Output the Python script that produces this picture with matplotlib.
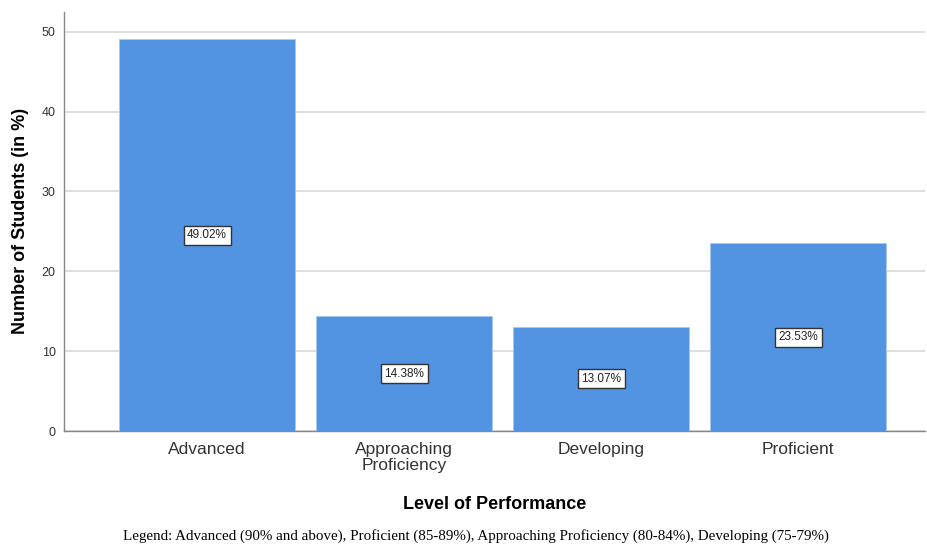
import matplotlib.pyplot as plt

plt.rcParams['font.family'] = ['Liberation Sans', 'DejaVu Sans']

levels = ["Advanced", "Approaching\nProficiency", "Developing", "Proficient"]
percents = [49.02, 14.38, 13.07, 23.53]
yticks = [0, 10, 20, 30, 40, 50]

fig = plt.figure(figsize=(9.28, 5.46), dpi=100)
ax = fig.add_axes([0.069, 0.2106, 0.928, 0.768])

x = list(range(len(levels)))
bars = ax.bar(x, percents, width=0.893, color="#5294e2", edgecolor="#a9c8ee",
              linewidth=0.6, zorder=3)

for xi, v in zip(x, percents):
    ax.text(xi, v / 2, f"{v:.2f}%", ha="center", va="center", fontsize=8.5,
            color="#222222", zorder=4,
            bbox=dict(boxstyle="square,pad=0.3", fc="white", ec="#333333", lw=1.0))

ax.set_xlim(-0.726, 3.645)
ax.set_ylim(0, 52.5)
ax.set_yticks(yticks)
ax.set_xticks(x)
ax.set_xticklabels(levels, fontsize=12.5, color="#333333", linespacing=1.1)
ax.tick_params(axis="y", labelsize=9, colors="#333333", length=0, pad=6)
ax.tick_params(axis="x", length=0, pad=8)

ax.yaxis.grid(True, color="#d9d9d9", linewidth=1.2, zorder=0)
for s in ["top", "right"]:
    ax.spines[s].set_visible(False)
for s in ["left", "bottom"]:
    ax.spines[s].set_color("#888888")
    ax.spines[s].set_linewidth(1.0)

ax.set_ylabel("Number of Students (in %)", fontsize=13, fontweight="bold", labelpad=9)
ax.set_xlabel("Level of Performance", fontsize=13, fontweight="bold", labelpad=16)

fig.text(0.513, 0.018, "Legend: Advanced (90% and above), Proficient (85-89%), "
         "Approaching Proficiency (80-84%), Developing (75-79%)",
         ha="center", va="center", fontsize=10.8, family="Liberation Serif")

fig.savefig("out.png", dpi=100)
